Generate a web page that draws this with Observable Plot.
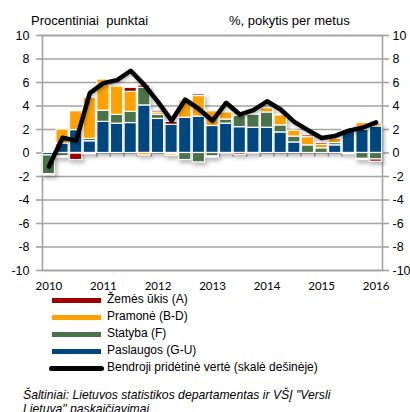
<!DOCTYPE html>
<html>
<head>
<meta charset="utf-8">
<script src="https://cdn.jsdelivr.net/npm/d3@7"></script>
<script src="https://cdn.jsdelivr.net/npm/@observablehq/plot@0.6"></script>
<style>
  html, body { margin: 0; padding: 0; background: #fff; }
  #wrap { position: relative; width: 410px; height: 412px; overflow: hidden; font-family: "Liberation Sans", Arial, sans-serif; color: #000; }
  #chart { position: absolute; left: 0; top: 0; }
  .ttl { position: absolute; font-size: 13px; white-space: pre; line-height: 1; }
  .leg { position: absolute; left: 0; font-size: 12px; line-height: 1; white-space: pre; }
  .sw { position: absolute; left: 52px; width: 49px; height: 5px; }
  .lt { position: absolute; left: 107px; }
  .cap { position: absolute; left: 23px; font-size: 12.2px; font-style: italic; white-space: pre; line-height: 14px; }
</style>
</head>
<body>
<div id="wrap">
  <div id="chart"></div>
  <div class="ttl" style="left:31px; top:14px;">Procentiniai  punktai</div>
  <div class="ttl" style="left:229px; top:14px;">%, pokytis per metus</div>
  <div id="legend"></div>
  <div class="cap" style="top:388px;">Šaltiniai: Lietuvos statistikos departamentas ir VŠĮ "Versli
Lietuva" paskaičiavimai</div>
</div>
<script>
const years = ["2010","2011","2012","2013","2014","2015","2016"];
const quarters = [];
for (const y of years) for (const q of ["Q1","Q2","Q3","Q4"]) quarters.push(y + q);
quarters.length = 25; // 2010Q1 .. 2016Q1

const seriesNames = ["Paslaugos (G-U)", "Statyba (F)", "Pramonė (B-D)", "Žemės ūkis (A)"];
const seriesColors = ["#00477f", "#4a7349", "#ffa200", "#a00000"];
const legendOrder = ["Žemės ūkis (A)", "Pramonė (B-D)", "Statyba (F)", "Paslaugos (G-U)"];
const lineName = "Bendroji pridėtinė vertė (skalė dešinėje)";

const paslaugos = [-0.2, 0.8, 1.95, 1.0, 2.65, 2.5, 2.55, 4.05, 2.9, 2.4, 3.0, 3.1, 2.3, 2.5, 2.2, 2.15, 2.15, 1.75, 0.9, 0, 0, 0.65, 1.95, 2.0, 2.25];
const statyba   = [-1.6, -0.3, -0.05, 0.2, 0.95, 0.75, 0.95, 1.5, 0.35, -0.1, -0.6, -0.8, -0.3, 0.35, 0.95, 1.1, 1.3, 0.6, 0.5, 0.65, 0.4, 0.2, -0.1, -0.5, -0.55];
const pramone   = [-0.1, 1.2, 1.6, 3.5, 2.65, 2.4, 1.7, -0.2, 0.2, -0.15, 1.3, 1.75, 1.25, 0.6, 0, 0.1, 0.35, 0.85, 0.5, 0.7, 0.3, 0.35, 0.1, 0.55, 0.2];
const zemes     = [0, -0.1, -0.55, -0.1, 0, 0, 0.35, 0.2, 0.15, 0.25, 0.15, 0.15, -0.1, -0.05, -0.15, -0.05, 0, 0, 0, 0.15, 0.15, 0, 0.1, -0.1, -0.2];
const bendroji  = [-1.15, 1.3, 1.05, 5.1, 5.95, 6.2, 7.0, 5.8, 4.35, 2.75, 4.55, 3.75, 2.75, 4.27, 3.27, 3.65, 4.4, 3.7, 2.65, 1.95, 1.28, 1.45, 1.9, 2.15, 2.6];

const yTicks = [-10, -8, -6, -4, -2, 0, 2, 4, 6, 8, 10];

const seriesValues = [paslaugos, statyba, pramone, zemes];
const barData = [];
seriesNames.forEach((name, i) => {
  quarters.forEach((q, j) => barData.push({q, series: name, value: seriesValues[i][j]}));
});
const lineData = quarters.map((q, j) => ({q, value: bendroji[j]}));

const W = 410, mL = 42, mR = 28;
const step = (W - mL - mR) / quarters.length;
const gridColor = "#a3a3a3";

const chart = Plot.plot({
  width: W,
  height: 300,
  marginTop: 35,
  marginBottom: 30,
  marginLeft: mL,
  marginRight: mR,
  style: {fontFamily: "'Liberation Sans', Arial, sans-serif", fontSize: "12.5px", color: "#000", background: "transparent", overflow: "visible"},
  x: {type: "band", domain: quarters, paddingInner: 0.1, paddingOuter: 0.02, round: false, label: null},
  y: {domain: [-10, 10], label: null},
  color: {domain: seriesNames, range: seriesColors},
  marks: [
    Plot.ruleY(yTicks, {stroke: gridColor, strokeWidth: 1.6}),
    Plot.frame({stroke: gridColor, strokeWidth: 1.6}),
    Plot.ruleX(quarters, {x: d => d, y1: 0, y2: -0.35, dx: -step / 2, stroke: gridColor, strokeWidth: 1.6}),
    Plot.axisY({anchor: "left", ticks: yTicks, tickSize: 6, tickPadding: 7, stroke: gridColor, strokeWidth: 1.6, tickFormat: d => String(d), fontSize: 12.5, label: null}),
    Plot.axisY({anchor: "right", ticks: yTicks, tickSize: 6, tickPadding: 4, stroke: gridColor, strokeWidth: 1.6, tickFormat: d => String(d), fontSize: 12.5, label: null}),
    Plot.axisX({anchor: "bottom", tickSize: 0, tickPadding: 11, fontFamily: "Lato, 'Open Sans', sans-serif", fontSize: 11.5, label: null,
      tickFormat: d => d.endsWith("Q1") ? d.slice(0, 4) : ""}),
    Plot.barY(barData, {x: "q", y: "value", fill: "series", order: seriesNames, stroke: "white", strokeWidth: 1.2}),
    Plot.line(lineData, {x: "q", y: "value", stroke: "black", strokeWidth: 4.5, strokeLinejoin: "round", strokeLinecap: "round"})
  ]
});

chart.querySelectorAll('g[aria-label="bar"]').forEach(g => {
  g.style.filter = "drop-shadow(2px 3px 2px rgba(0,0,0,0.28))";
});
chart.querySelectorAll('g[aria-label="line"]').forEach(g => {
  g.style.filter = "drop-shadow(1px 2px 1.5px rgba(0,0,0,0.25))";
});
document.getElementById("chart").appendChild(chart);

// Legend
const legend = document.getElementById("legend");
const legItems = legendOrder.map(n => ({name: n, color: seriesColors[seriesNames.indexOf(n)], line: false}))
  .concat([{name: lineName, color: "#000", line: true}]);
const legTop = 300, legStep = 17;
legItems.forEach((it, i) => {
  const cy = legTop + i * legStep;
  const sw = document.createElement("div");
  sw.className = "sw";
  sw.style.top = (cy - 2.5) + "px";
  sw.style.background = it.color;
  if (it.line) { sw.style.left = "49px"; sw.style.width = "55px"; sw.style.height = "5px"; sw.style.borderRadius = "3px"; }
  legend.appendChild(sw);
  const t = document.createElement("div");
  t.className = "leg lt";
  t.style.top = (cy - 7) + "px";
  t.textContent = it.name;
  legend.appendChild(t);
});
</script>
</body>
</html>
